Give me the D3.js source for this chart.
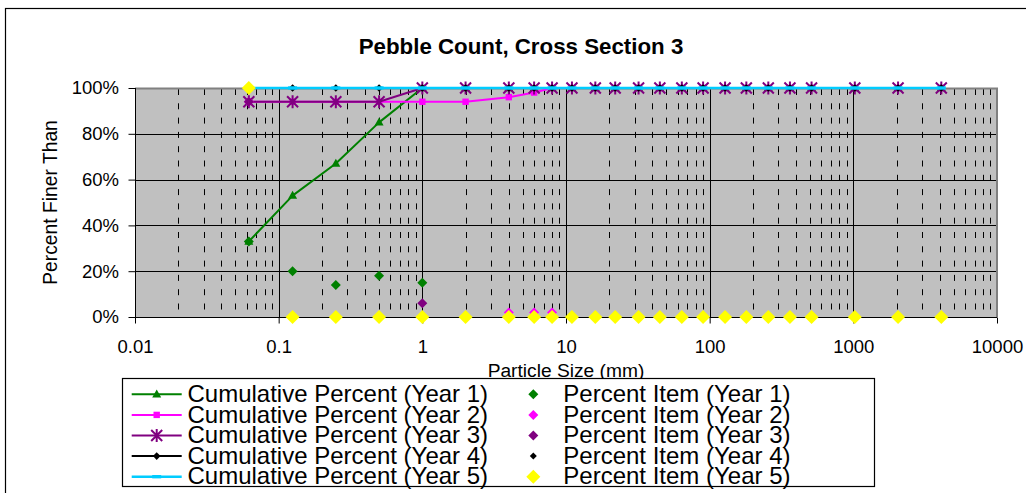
<!DOCTYPE html>
<html>
<head>
<meta charset="utf-8">
<script src="https://cdn.jsdelivr.net/npm/d3@7"></script>
<style>
  html, body { margin: 0; padding: 0; background: #fff; }
  svg { display: block; }
  text { font-family: "Liberation Sans", Arial, sans-serif; fill: #000; }
</style>
</head>
<body>
<svg id="chart" width="1026" height="493"></svg>
<script>
// ---------------- data ----------------
const titleText = "Pebble Count, Cross Section 3";
const xLabel = "Particle Size (mm)";
const yLabel = "Percent Finer Than";
const xTickValues = [0.01, 0.1, 1, 10, 100, 1000, 10000];
const xTickLabels = ["0.01", "0.1", "1", "10", "100", "1000", "10000"];
const yTickValues = [0, 20, 40, 60, 80, 100];
const yTickLabels = ["0%", "20%", "40%", "60%", "80%", "100%"];

const sizes = [0.062, 0.125, 0.25, 0.5, 1, 2, 4, 6, 8, 11, 16, 22, 32, 45, 64, 90, 128, 180, 256, 362, 512, 1024, 2048, 4096];

const cumYear1 = [33, 53, 67, 85, 100, 100, 100, 100, 100, 100, 100, 100, 100, 100, 100, 100, 100, 100, 100, 100, 100, 100, 100, 100];
const cumYear2 = [94, 94, 94, 94, 94, 94, 96, 98, 100, 100, 100, 100, 100, 100, 100, 100, 100, 100, 100, 100, 100, 100, 100, 100];
const cumYear3 = [94, 94, 94, 94, 100, 100, 100, 100, 100, 100, 100, 100, 100, 100, 100, 100, 100, 100, 100, 100, 100, 100, 100, 100];
const cumYear4 = [100, 100, 100, 100, 100, 100, 100, 100, 100, 100, 100, 100, 100, 100, 100, 100, 100, 100, 100, 100, 100, 100, 100, 100];
const cumYear5 = [100, 100, 100, 100, 100, 100, 100, 100, 100, 100, 100, 100, 100, 100, 100, 100, 100, 100, 100, 100, 100, 100, 100, 100];

const itemYear1 = [33, 20, 14, 18, 15, 0, 0, 0, 0, 0, 0, 0, 0, 0, 0, 0, 0, 0, 0, 0, 0, 0, 0, 0];
const itemYear2 = [94, 0, 0, 0, 0, 0, 2, 2, 2, 0, 0, 0, 0, 0, 0, 0, 0, 0, 0, 0, 0, 0, 0, 0];
const itemYear3 = [94, 0, 0, 0, 6, 0, 0, 0, 0, 0, 0, 0, 0, 0, 0, 0, 0, 0, 0, 0, 0, 0, 0, 0];
const itemYear4 = [100, 0, 0, 0, 0, 0, 0, 0, 0, 0, 0, 0, 0, 0, 0, 0, 0, 0, 0, 0, 0, 0, 0, 0];
const itemYear5 = [100, 0, 0, 0, 0, 0, 0, 0, 0, 0, 0, 0, 0, 0, 0, 0, 0, 0, 0, 0, 0, 0, 0, 0];

const cumNames = ["Cumulative Percent (Year 1)", "Cumulative Percent (Year 2)", "Cumulative Percent (Year 3)", "Cumulative Percent (Year 4)", "Cumulative Percent (Year 5)"];
const itemNames = ["Percent Item (Year 1)", "Percent Item (Year 2)", "Percent Item (Year 3)", "Percent Item (Year 4)", "Percent Item (Year 5)"];

// ---------------- layout / styles ----------------
const plot = { left: 135, right: 997, top: 88, bottom: 317 };
const colors = { green: "#008000", magenta: "#FF00FF", purple: "#800080", black: "#000000", cyan: "#00CCFF", yellow: "#FFFF00" };

const cumSeries = [
  { name: cumNames[0], values: cumYear1, color: colors.green, marker: "triangle", width: 2 },
  { name: cumNames[1], values: cumYear2, color: colors.magenta, marker: "square", width: 2 },
  { name: cumNames[2], values: cumYear3, color: colors.purple, marker: "star", width: 2 },
  { name: cumNames[3], values: cumYear4, color: colors.black, marker: "smalldiamond", width: 2 },
  { name: cumNames[4], values: cumYear5, color: colors.cyan, marker: "dash", width: 2.6 }
];
const itemSeries = [
  { name: itemNames[0], values: itemYear1, color: colors.green, half: 5 },
  { name: itemNames[1], values: itemYear2, color: colors.magenta, half: 5 },
  { name: itemNames[2], values: itemYear3, color: colors.purple, half: 5 },
  { name: itemNames[3], values: itemYear4, color: colors.black, half: 3.5 },
  { name: itemNames[4], values: itemYear5, color: colors.yellow, half: 7 }
];

const svg = d3.select("#chart");

const x = d3.scaleLog().domain([0.01, 10000]).range([plot.left, plot.right]);
const y = d3.scaleLinear().domain([0, 100]).range([plot.bottom, plot.top]);

// outer chart border
svg.append("rect").attr("x", 5.5).attr("y", 8.5).attr("width", 1100).attr("height", 600)
  .attr("fill", "#fff").attr("stroke", "#000").attr("stroke-width", 1.2);

// plot area
svg.append("rect").attr("x", plot.left).attr("y", plot.top)
  .attr("width", plot.right - plot.left).attr("height", plot.bottom - plot.top)
  .attr("fill", "#C0C0C0");

// minor vertical gridlines (dashed)
const minorVals = [];
for (let d = 0.01; d < 9999; d *= 10) {
  for (let k = 2; k <= 9; k++) minorVals.push(+(k * d).toPrecision(6));
}
svg.append("g").selectAll("line").data(minorVals).join("line")
  .attr("x1", d => Math.round(x(d)) + 0.5).attr("x2", d => Math.round(x(d)) + 0.5)
  .attr("y1", plot.top).attr("y2", plot.bottom)
  .attr("stroke", "#000").attr("stroke-width", 1)
  .attr("stroke-dasharray", "6,8.3").attr("stroke-dashoffset", -1);

// major vertical gridlines
svg.append("g").selectAll("line").data(xTickValues.slice(1, -1)).join("line")
  .attr("x1", d => Math.round(x(d)) + 0.5).attr("x2", d => Math.round(x(d)) + 0.5)
  .attr("y1", plot.top).attr("y2", plot.bottom)
  .attr("stroke", "#000").attr("stroke-width", 1);

// major horizontal gridlines
svg.append("g").selectAll("line").data(yTickValues.slice(1, -1)).join("line")
  .attr("x1", plot.left).attr("x2", plot.right)
  .attr("y1", d => Math.round(y(d)) + 0.5).attr("y2", d => Math.round(y(d)) + 0.5)
  .attr("stroke", "#000").attr("stroke-width", 1);

// plot border (gray top/right)
svg.append("path")
  .attr("d", `M${plot.left},${plot.top + 0.5}H${plot.right}V${plot.bottom}`)
  .attr("fill", "none").attr("stroke", "#808080").attr("stroke-width", 2);

// axes
const xAxis = d3.axisBottom(x).tickValues(xTickValues)
  .tickFormat((d, i) => xTickLabels[i]).tickSize(6).tickPadding(16.5);
const gx = svg.append("g").attr("transform", `translate(0,${plot.bottom + 0.5})`).call(xAxis);
gx.select(".domain").attr("stroke", "#000").attr("d", `M${plot.left},0H${plot.right}`);
gx.selectAll("text").attr("font-size", 18.5).attr("font-family", '"Liberation Sans", Arial, sans-serif');

const yAxis = d3.axisLeft(y).tickValues(yTickValues)
  .tickFormat((d, i) => yTickLabels[i]).tickSize(7).tickPadding(9.5);
const gy = svg.append("g").attr("transform", `translate(${plot.left + 0.5},0)`).call(yAxis);
gy.select(".domain").attr("stroke", "#000").attr("d", `M0,${plot.top}V${plot.bottom}`);
gy.selectAll("text").attr("font-size", 18.5).attr("font-family", '"Liberation Sans", Arial, sans-serif');

// markers
function markerPath(type) {
  switch (type) {
    case "triangle": return "M0,-4.8L4.5,3.2L-4.5,3.2Z";
    case "square": return "M-3.2,-3.2H3.2V3.2H-3.2Z";
    case "smalldiamond": return "M0,-3.8L3.8,0L0,3.8L-3.8,0Z";
    case "dash": return "M-4.5,-1.7H4.5V1.7H-4.5Z";
    case "star": return "M-5.5,-5.5L5.5,5.5M-5.5,5.5L5.5,-5.5M0,-6.5V6.5";
  }
}
function drawMarker(g, type, color, cx, cy) {
  const p = g.append("path").attr("d", markerPath(type)).attr("transform", `translate(${cx},${cy})`);
  if (type === "star") p.attr("fill", "none").attr("stroke", color).attr("stroke-width", 2);
  else p.attr("fill", color).attr("stroke", "none");
}
function diamond(half) { return `M0,${-half}L${half},0L0,${half}L${-half},0Z`; }

const line = d3.line().x(d => x(d[0])).y(d => y(d[1]));

// cumulative series
cumSeries.forEach(s => {
  const pts = sizes.map((v, i) => [v, s.values[i]]);
  const g = svg.append("g");
  g.append("path").datum(pts).attr("d", line)
    .attr("fill", "none").attr("stroke", s.color).attr("stroke-width", s.width)
    .attr("stroke-linejoin", "round");
  pts.forEach(p => drawMarker(g, s.marker, s.color, x(p[0]), y(p[1])));
});

// percent item series
itemSeries.forEach(s => {
  const g = svg.append("g");
  g.selectAll("path").data(sizes.map((v, i) => [v, s.values[i]])).join("path")
    .attr("d", diamond(s.half))
    .attr("transform", d => `translate(${x(d[0])},${y(d[1])})`)
    .attr("fill", s.color);
});

// titles
svg.append("text").attr("x", 521).attr("y", 54.3).attr("text-anchor", "middle")
  .attr("font-size", 22.3).attr("font-weight", "bold").text(titleText);
svg.append("text").attr("transform", "translate(56.5,202.5) rotate(-90)")
  .attr("text-anchor", "middle").attr("font-size", 19.3).text(yLabel);
svg.append("text").attr("x", 566).attr("y", 376.5).attr("text-anchor", "middle")
  .attr("font-size", 19.2).text(xLabel);

// legend
const leg = svg.append("g");
leg.append("rect").attr("x", 122.5).attr("y", 378.5).attr("width", 752).attr("height", 108)
  .attr("fill", "#fff").attr("stroke", "#000").attr("stroke-width", 1.2);
const rowY = [394.3, 414.9, 435.5, 456.1, 476.7];
cumSeries.forEach((s, i) => {
  const cy = rowY[i];
  leg.append("line").attr("x1", 131.7).attr("x2", 181.7).attr("y1", cy).attr("y2", cy)
    .attr("stroke", s.color).attr("stroke-width", s.width);
  drawMarker(leg, s.marker, s.color, 156.7, cy);
  leg.append("text").attr("x", 187.5).attr("y", cy + 7.6).attr("font-size", 24).text(s.name);
});
itemSeries.forEach((s, i) => {
  const cy = rowY[i];
  leg.append("path").attr("d", diamond(s.half)).attr("transform", `translate(533.3,${cy})`).attr("fill", s.color);
  leg.append("text").attr("x", 563.3).attr("y", cy + 7.6).attr("font-size", 24).text(s.name);
});
</script>
</body>
</html>
